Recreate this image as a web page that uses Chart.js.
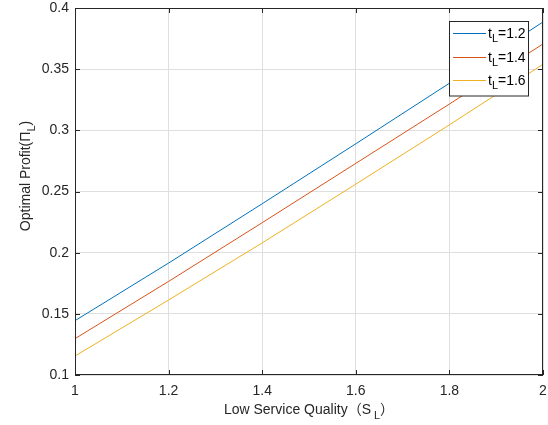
<!DOCTYPE html>
<html>
<head>
<meta charset="utf-8">
<script src="https://cdn.jsdelivr.net/npm/chart.js@4"></script>
<style>
    body { margin: 0; background: #ffffff; }
    #chartBox { width: 548px; height: 425px; }
</style>
</head>
<body>
<div id="chartBox"><canvas id="profitChart" width="548" height="425"></canvas></div>
<script>
// values
const serviceQuality = [1.0, 1.2, 1.4, 1.6, 1.8, 2.0];
const profitT12 = [0.1444, 0.1915, 0.2400, 0.2890, 0.3385, 0.3886];
const profitT14 = [0.1297, 0.1765, 0.2245, 0.2730, 0.3215, 0.3706];
const profitT16 = [0.1155, 0.1613, 0.2080, 0.2560, 0.3045, 0.3540];
const legendValues = ['1.2', '1.4', '1.6'];
const xTicks = [1, 1.2, 1.4, 1.6, 1.8, 2];
const yTicks = [0.1, 0.15, 0.2, 0.25, 0.3, 0.35, 0.4];

const FONT = '"Liberation Sans", Arial, "Noto Sans CJK SC", sans-serif';
const colors = ['#0072BD', '#D95319', '#EDB120'];

function toPoints(ys) {
    return serviceQuality.map((x, i) => ({ x: x, y: ys[i] }));
}

// draws "main" + subscript + "tail" starting at x, baseline y
function drawSubText(ctx, main, sub, tail, x, y, size, gap) {
    ctx.font = size + 'px ' + FONT;
    ctx.fillText(main, x, y);
    let w = ctx.measureText(main).width + (gap || 0);
    ctx.font = Math.round(size * 0.75) + 'px ' + FONT;
    ctx.fillText(sub, x + w, y + size * 0.35);
    w += ctx.measureText(sub).width;
    ctx.font = size + 'px ' + FONT;
    ctx.fillText(tail, x + w, y);
    return w + ctx.measureText(tail).width;
}

function measureSubText(ctx, main, sub, tail, size, gap) {
    ctx.font = size + 'px ' + FONT;
    let w = ctx.measureText(main).width + ctx.measureText(tail).width + (gap || 0);
    ctx.font = Math.round(size * 0.75) + 'px ' + FONT;
    return w + ctx.measureText(sub).width;
}

const decorations = {
    id: 'decorations',
    afterDraw(chart) {
        const ctx = chart.ctx;
        const area = chart.chartArea;
        const xs = chart.scales.x;
        const ys = chart.scales.y;
        ctx.save();

        // axes box
        ctx.strokeStyle = '#262626';
        ctx.lineWidth = 1;
        ctx.strokeRect(area.left + 0.5, area.top + 0.5, area.right - area.left - 1, area.bottom - area.top - 1);

        // inward ticks on all sides
        ctx.beginPath();
        xTicks.forEach(v => {
            const px = Math.round(xs.getPixelForValue(v)) + 0.5;
            ctx.moveTo(px, area.bottom); ctx.lineTo(px, area.bottom - 5);
            ctx.moveTo(px, area.top); ctx.lineTo(px, area.top + 5);
        });
        yTicks.forEach(v => {
            const py = Math.round(ys.getPixelForValue(v)) + 0.5;
            ctx.moveTo(area.left, py); ctx.lineTo(area.left + 5, py);
            ctx.moveTo(area.right, py); ctx.lineTo(area.right - 5, py);
        });
        ctx.stroke();

        // legend
        const lx = 449.5, ly = 21.5, lw = 79, lh = 74.5;
        ctx.fillStyle = '#ffffff';
        ctx.fillRect(lx, ly, lw, lh);
        ctx.strokeStyle = '#262626';
        ctx.strokeRect(lx, ly, lw, lh);
        const rows = [33.5, 57.5, 80.5];
        ctx.textBaseline = 'alphabetic';
        legendValues.forEach((val, i) => {
            ctx.beginPath();
            ctx.strokeStyle = colors[i];
            ctx.moveTo(453, rows[i]);
            ctx.lineTo(486, rows[i]);
            ctx.stroke();
            ctx.fillStyle = '#000000';
            drawSubText(ctx, 't', 'L', '=' + val, 488, rows[i] + 4, 14, 0);
        });

        // axis titles
        ctx.fillStyle = '#262626';
        const xw = measureSubText(ctx, 'Low Service Quality\uFF08S', 'L', '\uFF09', 14, 3);
        drawSubText(ctx, 'Low Service Quality\uFF08S', 'L', '\uFF09', (area.left + area.right) / 2 - xw / 2, 414, 14, 3);

        ctx.translate(30, 176);
        ctx.rotate(-Math.PI / 2);
        const yw = measureSubText(ctx, 'Optimal Profit(\u03A0', 'L', ')', 14, 0);
        drawSubText(ctx, 'Optimal Profit(\u03A0', 'L', ')', -yw / 2, 0, 14, 0);
        ctx.restore();
    }
};

const ctx = document.getElementById('profitChart').getContext('2d');
new Chart(ctx, {
    type: 'line',
    data: {
        datasets: [
            { label: 't_L=' + legendValues[0], data: toPoints(profitT12), borderColor: colors[0] },
            { label: 't_L=' + legendValues[1], data: toPoints(profitT14), borderColor: colors[1] },
            { label: 't_L=' + legendValues[2], data: toPoints(profitT16), borderColor: colors[2] }
        ]
    },
    options: {
        responsive: false,
        animation: false,
        layout: { padding: { left: 0, top: 8, right: 5, bottom: 0 } },
        elements: {
            line: { borderWidth: 1, tension: 0, fill: false },
            point: { radius: 0 }
        },
        plugins: {
            legend: { display: false },
            tooltip: { enabled: false }
        },
        scales: {
            x: {
                type: 'linear',
                min: 1, max: 2,
                afterFit: s => { s.height = 50; s.paddingLeft = 0; s.paddingRight = 0; },
                afterBuildTicks: s => { s.ticks = xTicks.map(v => ({ value: v })); },
                ticks: {
                    padding: 8,
                    color: '#262626',
                    font: { family: FONT, size: 14 },
                    callback: v => String(Number(v.toFixed(1)))
                },
                grid: { color: '#dfdfdf', drawTicks: false },
                border: { display: false }
            },
            y: {
                min: 0.1, max: 0.4,
                afterFit: s => { s.width = 75; s.paddingTop = 0; s.paddingBottom = 0; },
                afterBuildTicks: s => { s.ticks = yTicks.map(v => ({ value: v })); },
                ticks: {
                    padding: 6,
                    color: '#262626',
                    font: { family: FONT, size: 14 },
                    callback: v => String(Number(v.toFixed(2)))
                },
                grid: { color: '#dfdfdf', drawTicks: false },
                border: { display: false }
            }
        }
    },
    plugins: [decorations]
});
</script>
</body>
</html>
